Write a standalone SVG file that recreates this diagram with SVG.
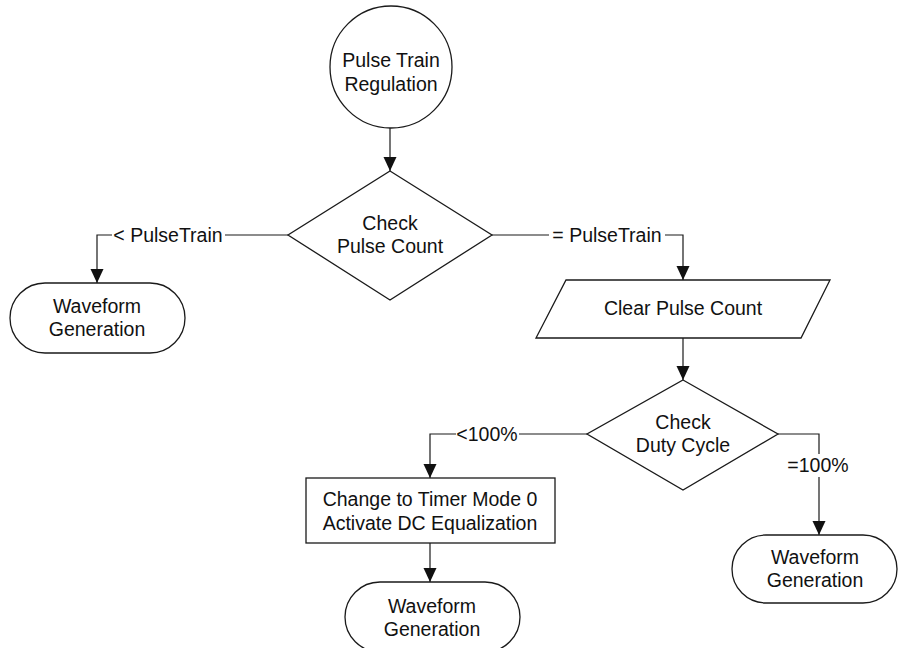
<svg xmlns="http://www.w3.org/2000/svg" width="898" height="648" viewBox="0 0 898 648">
  <style>
    .shape { fill: #ffffff; stroke: #1a1a1a; stroke-width: 1.3; }
    .conn { fill: none; stroke: #1a1a1a; stroke-width: 1.2; }
    text { font-family: "Liberation Sans", Arial, sans-serif; font-size: 19.5px; fill: #111111; text-anchor: middle; }
  </style>
  <defs>
    <marker id="arrow" markerUnits="userSpaceOnUse" markerWidth="14" markerHeight="14" refX="14" refY="6.5" orient="auto">
      <path d="M0,0 L14,6.5 L0,13 Z" fill="#111111"/>
    </marker>
  </defs>
  <rect width="898" height="648" fill="#ffffff"/>

  <!-- connectors -->
  <g id="connectors">
    <path class="conn" d="M390,128 V171" marker-end="url(#arrow)"/>
    <path class="conn" d="M288,235 H225"/>
    <path class="conn" d="M112,235 H97 V283" marker-end="url(#arrow)"/>
    <path class="conn" d="M492,235 H549"/>
    <path class="conn" d="M665,235 H683 V280" marker-end="url(#arrow)"/>
    <path class="conn" d="M683,338 V380" marker-end="url(#arrow)"/>
    <path class="conn" d="M587,434 H519"/>
    <path class="conn" d="M456,434 H430 V478" marker-end="url(#arrow)"/>
    <path class="conn" d="M778,434 H819 V454"/>
    <path class="conn" d="M819,477 V535" marker-end="url(#arrow)"/>
    <path class="conn" d="M430,543 V582" marker-end="url(#arrow)"/>
    <text x="168" y="242">&lt; PulseTrain</text>
    <text x="607" y="242">= PulseTrain</text>
    <text x="487" y="441">&lt;100%</text>
    <text x="818" y="472">=100%</text>
  </g>

  <g id="start">
    <circle class="shape" cx="391" cy="67" r="61"/>
    <text x="391" y="67">Pulse Train</text>
    <text x="391" y="91">Regulation</text>
  </g>

  <g id="check-pulse-count">
    <polygon class="shape" points="390,171 492,235 390,300 288,235"/>
    <text x="390" y="230">Check</text>
    <text x="390" y="253">Pulse Count</text>
  </g>

  <g id="waveform-left">
    <rect class="shape" x="10" y="283" width="175" height="70" rx="35" ry="35"/>
    <text x="97" y="313">Waveform</text>
    <text x="97" y="336">Generation</text>
  </g>

  <g id="clear-pulse-count">
    <polygon class="shape" points="566,280 830,280 801,338 536,338"/>
    <text x="683" y="315">Clear Pulse Count</text>
  </g>

  <g id="check-duty-cycle">
    <polygon class="shape" points="683,380 778,434 683,490 587,434"/>
    <text x="683" y="429">Check</text>
    <text x="683" y="452">Duty Cycle</text>
  </g>

  <g id="timer-mode">
    <rect class="shape" x="306" y="478" width="249" height="65"/>
    <text x="430" y="506">Change to Timer Mode 0</text>
    <text x="430" y="530">Activate DC Equalization</text>
  </g>

  <g id="waveform-right">
    <rect class="shape" x="732" y="535" width="165" height="68" rx="34" ry="34"/>
    <text x="815" y="564">Waveform</text>
    <text x="815" y="587">Generation</text>
  </g>

  <g id="waveform-bottom">
    <rect class="shape" x="345" y="582" width="175" height="70" rx="35" ry="35"/>
    <text x="432" y="613">Waveform</text>
    <text x="432" y="636">Generation</text>
  </g>
</svg>
